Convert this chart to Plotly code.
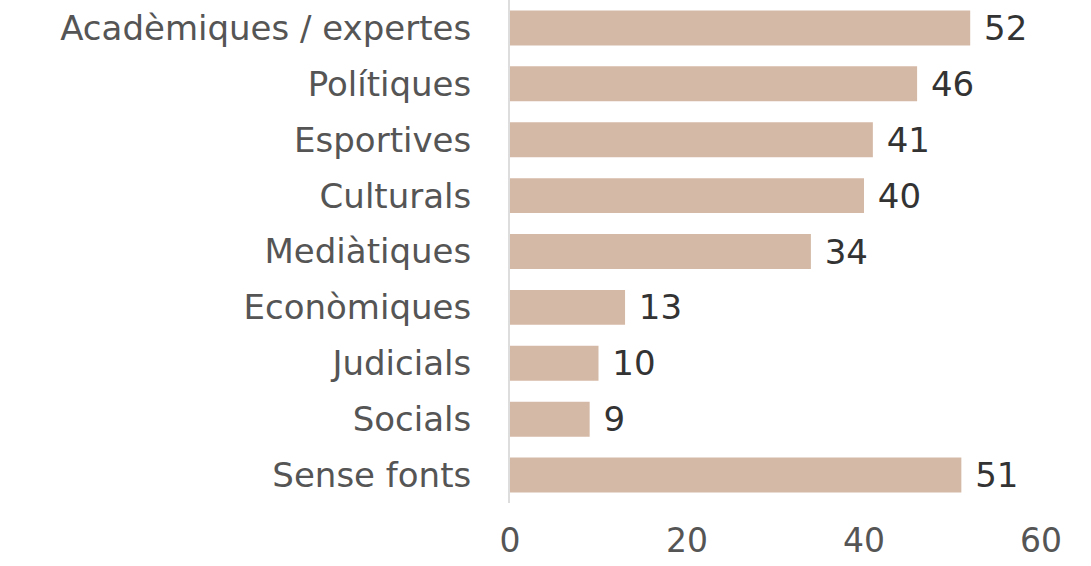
import plotly.graph_objects as go

categories = ["Acadèmiques / expertes", "Polítiques", "Esportives", "Culturals",
              "Mediàtiques", "Econòmiques", "Judicials", "Socials", "Sense fonts"]
values = [52, 46, 41, 40, 34, 13, 10, 9, 51]
x_ticks = [0, 20, 40, 60]

FONT = "DejaVu Sans"
FS = 34

fig = go.Figure(go.Bar(
    y=categories,
    x=values,
    orientation="h",
    marker=dict(color="#d4b9a6", line=dict(width=0)),
    text=[f" {v}" for v in values],
    textposition="outside",
    constraintext="none",
    textfont=dict(family=FONT, size=FS, color="#333333"),
    cliponaxis=False,
))

fig.update_layout(
    width=1091, height=566,
    margin=dict(l=510, r=50, t=0, b=63),
    paper_bgcolor="white", plot_bgcolor="white",
    bargap=0.375,
    showlegend=False,
    font=dict(family=FONT, color="#555555"),
)
fig.update_xaxes(
    range=[0, 60], tickvals=x_ticks, showgrid=False, zeroline=False, showline=False,
    ticks="outside", ticklen=8, tickcolor="rgba(0,0,0,0)", automargin=False,
    tickfont=dict(family=FONT, size=33, color="#555555"),
)
fig.update_yaxes(
    autorange="reversed", showgrid=False, zeroline=False,
    showline=True, linecolor="#dddddd", linewidth=2,
    ticks="outside", ticklen=30, tickcolor="rgba(0,0,0,0)", automargin=False,
    tickfont=dict(family=FONT, size=FS, color="#555555"),
)

fig.write_html("out.html", post_script="document.body.style.margin='0';",
               config={"displayModeBar": False})
